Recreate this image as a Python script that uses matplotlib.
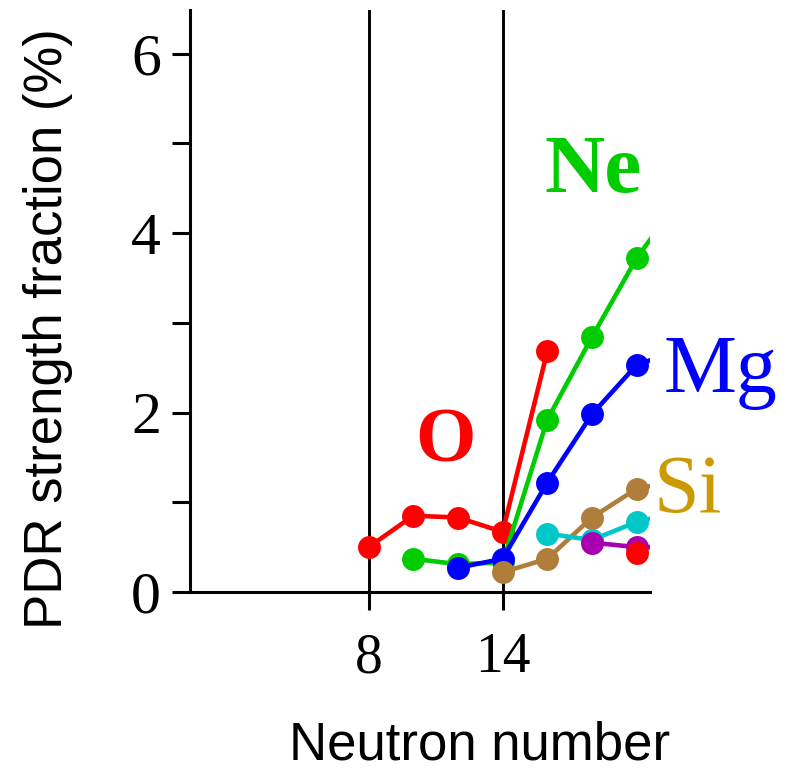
import matplotlib
matplotlib.use("Agg")
import matplotlib.pyplot as plt

# Data (neutron number, PDR strength fraction %)
o_n = [8, 10, 12, 14, 16]
o_v = [0.50, 0.85, 0.83, 0.67, 2.68]
o2_n = [20]
o2_v = [0.44]
ne_n = [10, 12, 14, 16, 18, 20, 22]
ne_v = [0.37, 0.31, 0.33, 1.92, 2.84, 3.72, 4.40]
mg_n = [12, 14, 16, 18, 20, 22]
mg_v = [0.27, 0.37, 1.22, 1.98, 2.53, 2.70]
si_n = [14, 16, 18, 20, 22]
si_v = [0.22, 0.37, 0.83, 1.15, 1.25]
cy_n = [16, 18, 20, 22]
cy_v = [0.65, 0.58, 0.78, 0.90]
pu_n = [18, 20, 22]
pu_v = [0.55, 0.50, 0.50]
vlines = [8, 14]
xticks = [8, 14]
yticks = [0, 1, 2, 3, 4, 5, 6]
ytick_labels = ["0", "", "2", "", "4", "", "6"]

W, H = 794, 774
fig = plt.figure(figsize=(W / 100, H / 100), dpi=100)
ax = fig.add_axes([190 / W, 1 - 592 / H, (650 - 190) / W, (592 - 10) / H])
ax.set_xlim(0, 20.6)
ax.set_ylim(0, 6.485)

lw = 3.3
ms = 15.5
for v in vlines:
    ax.axvline(v, color="black", lw=2.1, zorder=1)

series = [
    (o_n, o_v, "#ff0000"),
    (ne_n, ne_v, "#00cc00"),
    (mg_n, mg_v, "#0000ff"),
    (si_n, si_v, "#b07d3a"),
    (cy_n, cy_v, "#00c8c8"),
    (pu_n, pu_v, "#a800b0"),
]
for n, v, c in series:
    ax.plot(n, v, "-o", color=c, lw=lw, ms=ms, zorder=3)
ax.plot(o2_n, o2_v, "o", color="#ff0000", ms=ms, zorder=4)

for s in ["top", "right"]:
    ax.spines[s].set_visible(False)
for s in ["left", "bottom"]:
    ax.spines[s].set_linewidth(2.2)

serif = ["Liberation Serif", "DejaVu Serif"]
sans = ["Liberation Sans", "DejaVu Sans"]

ax.set_xticks(xticks)
ax.set_xticklabels([str(t) for t in xticks], fontsize=40, family=serif)
ax.set_yticks(yticks)
ax.set_yticklabels(ytick_labels, fontsize=43, family=serif)
ax.tick_params(axis="x", length=13, width=2.2, pad=16)
ax.tick_params(axis="y", length=13, width=2.2, pad=8)

fig.text(480 / W, 1 - 760 / H, "Neutron number", fontsize=38, family=sans,
         ha="center", va="baseline")
fig.text(48 / W, 1 - 329 / H, "PDR strength fraction (%)", fontsize=38,
         family=sans, ha="center", va="center", rotation=90)

fig.text(445 / W, 1 - 462 / H, "O", fontsize=56, family=serif, weight="bold",
         color="#ff0000", ha="center", va="baseline")
fig.text(593 / W, 1 - 192 / H, "Ne", fontsize=60, family=serif, weight="bold",
         color="#00cc00", ha="center", va="baseline")
fig.text(721 / W, 1 - 392 / H, "Mg", fontsize=59, family=serif,
         color="#0000ff", ha="center", va="baseline")
fig.text(688 / W, 1 - 512 / H, "Si", fontsize=59, family=serif,
         color="#cc9900", ha="center", va="baseline")

fig.savefig("out.png", dpi=100)
